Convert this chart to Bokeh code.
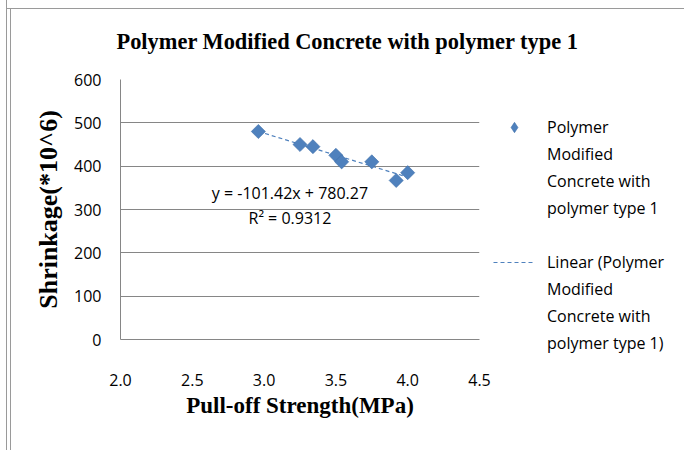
import numpy as np
from bokeh.plotting import figure
from bokeh.models import (Range1d, FixedTicker, Label, Legend, LegendItem,
                          NumeralTickFormatter)
from bokeh.embed import file_html
from bokeh.resources import INLINE

# ---- data ----
pull_off = [2.96, 3.25, 3.34, 3.50, 3.54, 3.75, 3.92, 4.00]
shrinkage = [480, 450, 445, 425, 410, 410, 367, 385]
slope = -101.42
intercept = 780.27
r_squared = 0.9312
x_ticks = [2.0, 2.5, 3.0, 3.5, 4.0, 4.5]
y_ticks = [0, 100, 200, 300, 400, 500, 600]
title_text = "Polymer Modified  Concrete with polymer type 1"
x_label = "Pull-off Strength(MPa)"
y_label = "Shrinkage(*10^6)"
series_lines = ["Polymer", "Modified", "Concrete with", "polymer type 1"]
trend_lines = ["Linear (Polymer", "Modified", "Concrete with", "polymer type 1)"]

BLUE = "#4F81BD"
EDGE = "#3E6FA9"
GRID = "#868686"
SERIF = "Liberation Serif"
SANS = "Open Sans"

p = figure(frame_width=359, frame_height=260, output_backend="svg",
           toolbar_location=None,
           x_range=Range1d(x_ticks[0], x_ticks[-1]),
           y_range=Range1d(y_ticks[0], y_ticks[-1]),
           min_border_left=120, min_border_right=205,
           min_border_top=79, min_border_bottom=111)
p.border_fill_color = None
p.background_fill_color = "white"
p.outline_line_color = None
W, G = "#ffffff", "#9a9a9a"
p.styles = {"box-shadow": ", ".join([
    f"inset 6px 0 0 {W}", f"inset 7px 0 0 {G}",        # outer left line
    f"inset 0 8px 0 {W}", f"inset 0 9px 0 {G}",        # top line
    f"inset -1px 0 0 {W}", f"inset -2px 0 0 {G}",      # right line
    f"inset 10px 0 0 {W}", f"inset 11px 0 0 {G}",      # inner left line
])}

p.title.text = title_text
p.title.text_font = SERIF
p.title.text_font_style = "bold"
p.title.text_font_size = "22.4px"
p.title.text_color = "black"
p.title.align = "left"
p.title.offset = -4
p.title.standoff = 51

p.xaxis.ticker = FixedTicker(ticks=x_ticks)
p.xaxis.formatter = NumeralTickFormatter(format="0.0")
p.yaxis.ticker = FixedTicker(ticks=y_ticks)
for ax in (p.xaxis, p.yaxis):
    ax.axis_line_color = GRID
    ax.major_tick_line_color = None
    ax.minor_tick_line_color = None
    ax.major_label_text_font = SANS
    ax.major_label_text_font_size = "16px"
    ax.major_label_text_color = "black"
    ax.axis_label_text_font = SERIF
    ax.axis_label_text_font_style = "bold"
    ax.axis_label_text_color = "black"
p.xaxis.axis_label = x_label
p.yaxis.axis_label = y_label
p.xaxis.axis_label_text_font_size = "23px"
p.yaxis.axis_label_text_font_size = "26px"
p.xaxis.major_label_standoff = 28
p.xaxis.axis_label_standoff = 4
p.yaxis.major_label_standoff = 13
p.yaxis.axis_label_standoff = 8

p.xgrid.visible = False
p.ygrid.grid_line_color = GRID
p.ygrid.grid_line_width = 1

trend_x = [min(pull_off), max(pull_off)]
trend_y = [slope * v + intercept for v in trend_x]
trend = p.line(trend_x, trend_y, line_color=BLUE, line_width=1.2, line_dash="4 3")
pts = p.scatter(pull_off, shrinkage, marker="square", angle=np.pi / 4, size=10,
                fill_color=BLUE, line_color=EDGE, line_width=0.6)
# diamond-shaped key for the legend (legend keys are drawn unrotated)
pts_key = p.scatter(pull_off, shrinkage, marker="diamond", fill_color=BLUE,
                    line_color=EDGE, line_width=0.6, visible=False)

p.add_layout(Label(x=3.18, y=337, text=f"y = {slope}x + {intercept}",
                   text_align="center", text_baseline="middle",
                   text_font=SANS, text_font_size="16px", text_color="black"))
p.add_layout(Label(x=3.18, y=280, text=f"R² = {r_squared}",
                   text_align="center", text_baseline="middle",
                   text_font=SANS, text_font_size="16px", text_color="black"))

items = [LegendItem(label=series_lines[0], renderers=[pts_key])]
items += [LegendItem(label=t, renderers=[]) for t in series_lines[1:]]
items += [LegendItem(label=" ", renderers=[])]
items += [LegendItem(label=trend_lines[0], renderers=[trend])]
items += [LegendItem(label=t, renderers=[]) for t in trend_lines[1:]]

legend = Legend(items=items, location=(14, -17))
legend.border_line_color = None
legend.background_fill_alpha = 0
legend.padding = 0
legend.margin = 0
legend.spacing = 1
legend.glyph_width = 42
legend.glyph_height = 26
legend.label_height = 26
legend.label_standoff = 12
legend.label_text_font = SANS
legend.label_text_font_size = "16px"
legend.label_text_color = "black"
p.add_layout(legend, "right")

open("out.html", "w").write(file_html(p, INLINE))
